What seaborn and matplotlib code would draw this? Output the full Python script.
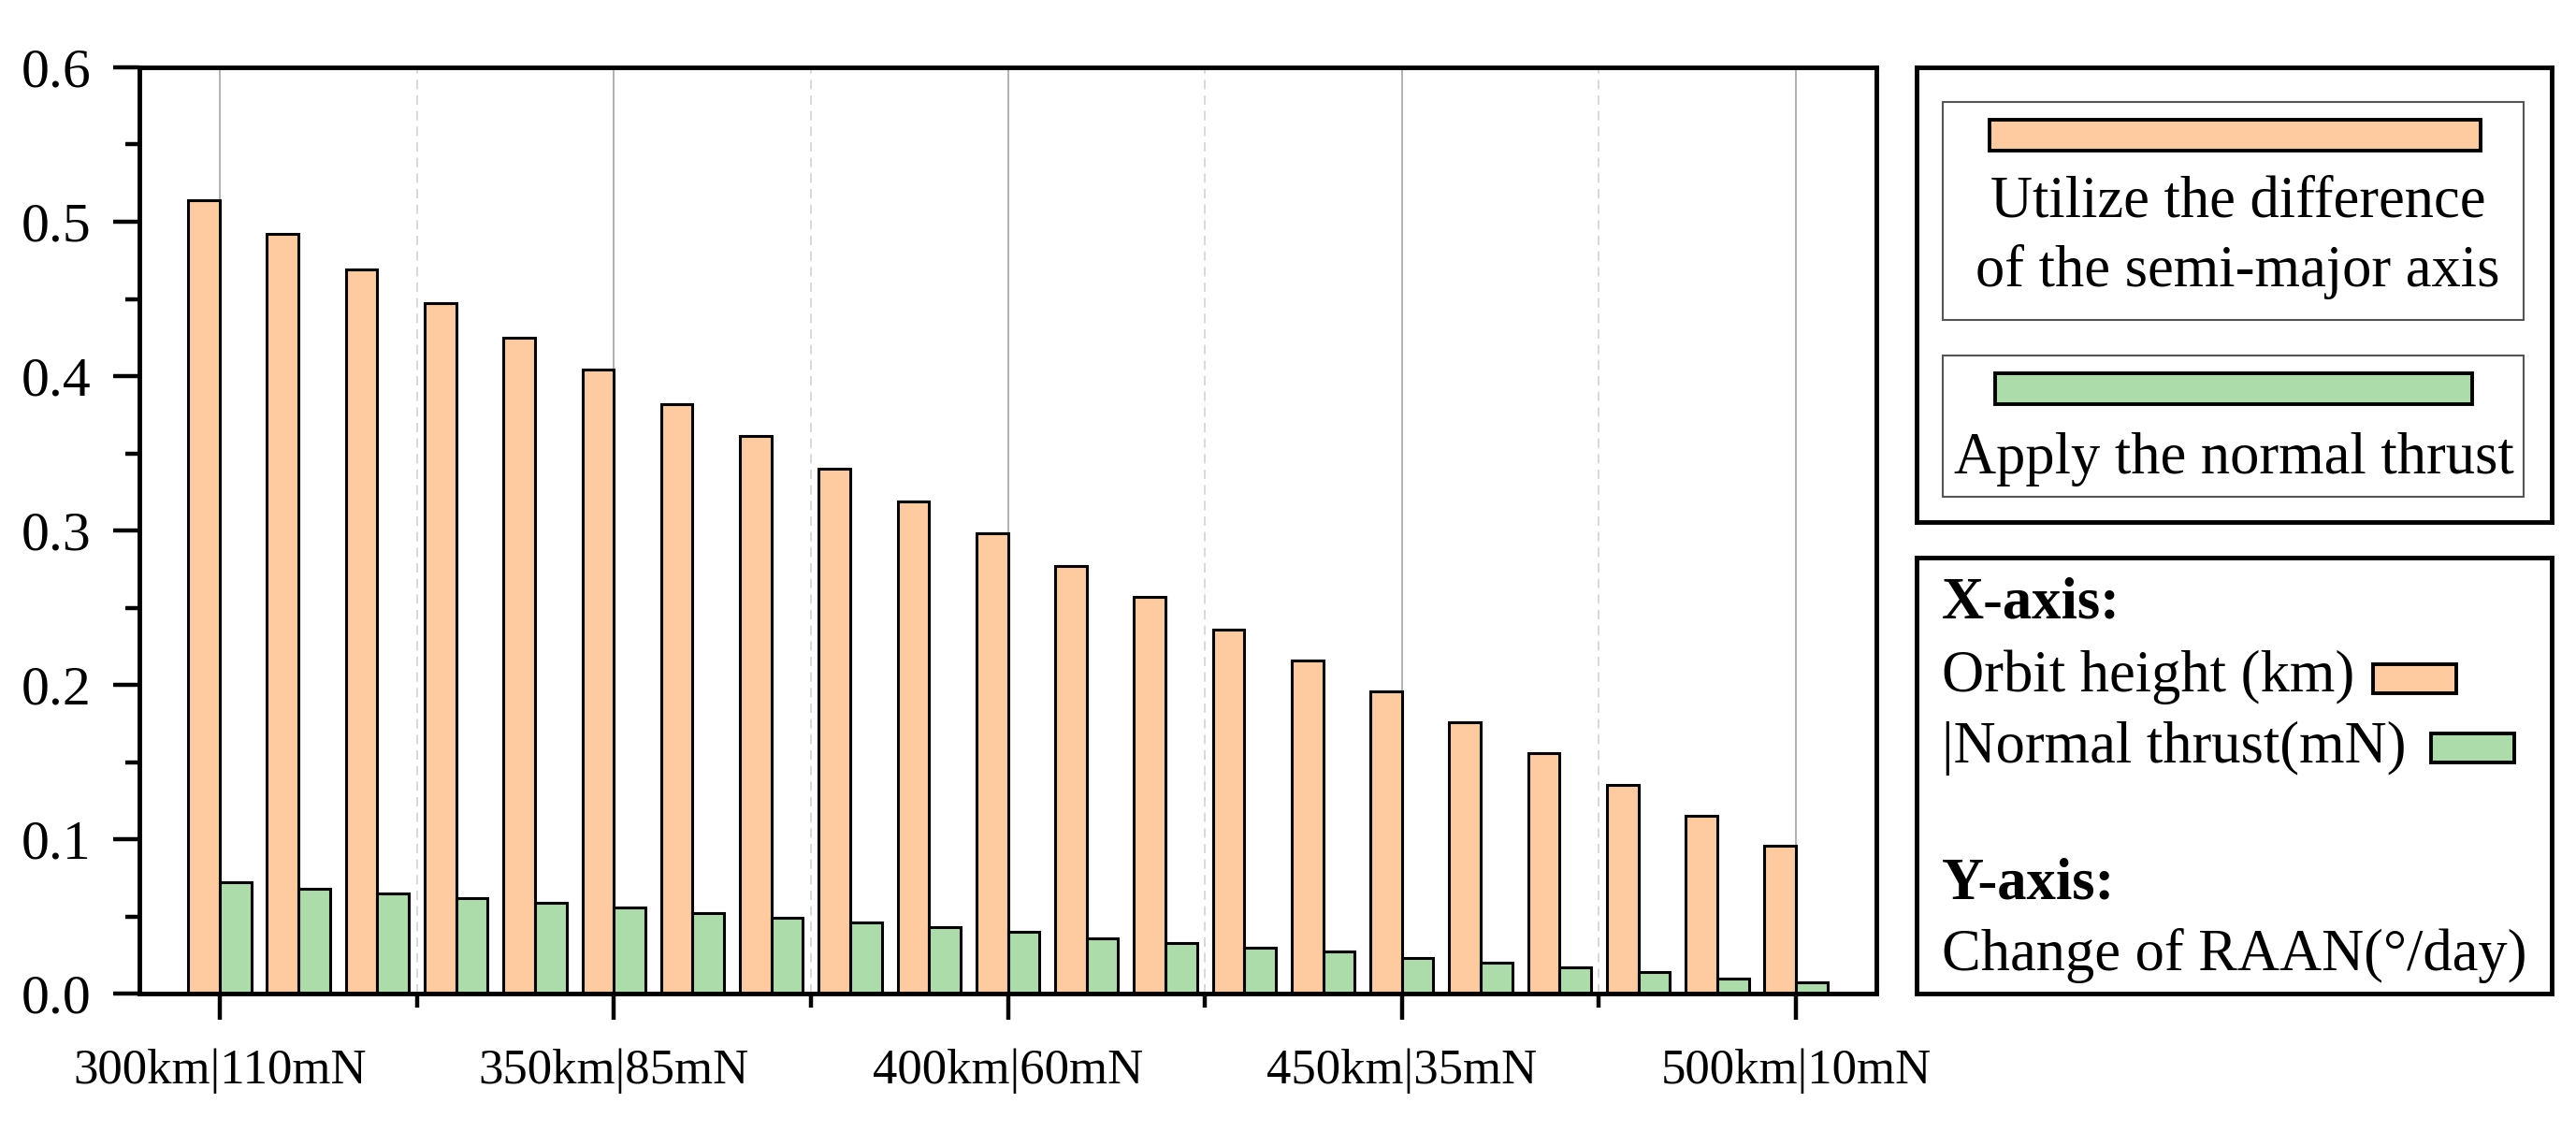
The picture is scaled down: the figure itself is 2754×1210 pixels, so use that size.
import numpy as np
import pandas as pd
import matplotlib.pyplot as plt
import matplotlib.patches as patches
from matplotlib.ticker import FixedLocator, MultipleLocator, FormatStrFormatter
import seaborn as sns

sns.set_theme(style='white')
plt.rcParams['font.family'] = ['Liberation Serif', 'DejaVu Serif']
plt.rcParams.update({'text.color': 'black', 'axes.labelcolor': 'black',
                     'xtick.color': 'black', 'ytick.color': 'black'})

# orbit heights (km), one group of bars per height
heights = [300, 310, 320, 330, 340, 350, 360, 370, 380, 390, 400,
           410, 420, 430, 440, 450, 460, 470, 480, 490, 500]
# change of RAAN (deg/day)
semi_major = [0.514, 0.492, 0.469, 0.447, 0.425, 0.404, 0.382, 0.361, 0.340, 0.319, 0.298,
              0.277, 0.257, 0.236, 0.216, 0.196, 0.176, 0.156, 0.135, 0.115, 0.096]
normal_thrust = [0.072, 0.068, 0.065, 0.062, 0.059, 0.056, 0.052, 0.049, 0.046, 0.043, 0.040,
                 0.036, 0.033, 0.030, 0.027, 0.023, 0.020, 0.017, 0.014, 0.010, 0.007]
methods = ['Utilize the difference\nof the semi-major axis', 'Apply the normal thrust']
tick_labels = ['300km|110mN', '350km|85mN', '400km|60mN', '450km|35mN', '500km|10mN']

ORANGE = '#FDCB9F'
GREEN = '#ADDCAB'

df = pd.DataFrame({
    'height': heights + heights,
    'value': semi_major + normal_thrust,
    'method': [methods[0]] * len(heights) + [methods[1]] * len(heights),
})

fig = plt.figure(figsize=(27.54, 12.10), dpi=100)
ax = fig.add_axes([0.0541, 0.1223, 0.6743, 0.8182])

sns.barplot(data=df, x='height', y='value', hue='method', order=heights, hue_order=methods,
            palette=[ORANGE, GREEN], saturation=1, width=0.8, edgecolor='black',
            linewidth=2.2, legend=False, ax=ax, zorder=2)

ax.set_xlim(-1.02, 21.02)
ax.set_ylim(0, 0.6)
ax.set_xlabel('')
ax.set_ylabel('')

ax.xaxis.set_major_locator(FixedLocator([0, 5, 10, 15, 20]))
ax.xaxis.set_minor_locator(FixedLocator([2.5, 7.5, 12.5, 17.5]))
ax.set_xticklabels(tick_labels)
ax.yaxis.set_major_locator(MultipleLocator(0.1))
ax.yaxis.set_minor_locator(MultipleLocator(0.05))
ax.yaxis.set_major_formatter(FormatStrFormatter('%.1f'))

ax.grid(which='major', axis='x', color='#a6a6a6', lw=1.2, ls='-', zorder=0)
ax.grid(which='minor', axis='x', color='#d2d2d2', lw=1.2, ls=(0, (6, 4)), zorder=0)
ax.grid(which='both', axis='y', visible=False)
ax.set_axisbelow(True)

ax.tick_params(axis='both', which='major', direction='out', length=20, width=3.2, color='black')
ax.tick_params(axis='both', which='minor', direction='out', length=11, width=3.2, color='black')
ax.tick_params(axis='x', which='both', bottom=True, labelsize=38, pad=22)
ax.tick_params(axis='y', which='both', left=True, labelsize=43, pad=17)
for s in ax.spines.values():
    s.set_visible(True)
    s.set_color('black')
    s.set_linewidth(3.5)

# legend panel with the two methods
lax1 = fig.add_axes([0.744, 0.5388, 0.2466, 0.4017])
lax1.set_xlim(0, 1)
lax1.set_ylim(0, 1)
lax1.set_xticks([])
lax1.set_yticks([])
for s in lax1.spines.values():
    s.set_color('black')
    s.set_linewidth(3.5)
for (y0, y1) in [(0.444, 0.924), (0.056, 0.366)]:
    lax1.add_patch(patches.Rectangle((0.041, y0), 0.915, y1 - y0, fill=False,
                                     edgecolor='#555555', lw=1.5))
lax1.add_patch(patches.Rectangle((0.115, 0.817), 0.773, 0.068, facecolor=ORANGE,
                                 edgecolor='black', lw=2.8))
lax1.add_patch(patches.Rectangle((0.124, 0.259), 0.751, 0.068, facecolor=GREEN,
                                 edgecolor='black', lw=2.8))
lax1.text(0.506, 0.702, 'Utilize the difference', fontsize=45, ha='center', va='center')
lax1.text(0.506, 0.550, 'of the semi-major axis', fontsize=45, ha='center', va='center')
lax1.text(0.500, 0.137, 'Apply the normal thrust', fontsize=45, ha='center', va='center')

# axis description panel
lax2 = fig.add_axes([0.744, 0.1223, 0.2466, 0.385])
lax2.set_xlim(0, 1)
lax2.set_ylim(0, 1)
lax2.set_xticks([])
lax2.set_yticks([])
for s in lax2.spines.values():
    s.set_color('black')
    s.set_linewidth(3.5)
lax2.text(0.040, 0.895, 'X-axis:', fontsize=45, fontweight='bold', ha='left', va='center')
lax2.text(0.040, 0.727, 'Orbit height (km)', fontsize=45, ha='left', va='center')
lax2.text(0.040, 0.562, '|Normal thrust(mN)', fontsize=45, ha='left', va='center')
lax2.text(0.040, 0.251, 'Y-axis:', fontsize=45, fontweight='bold', ha='left', va='center')
lax2.text(0.040, 0.086, 'Change of RAAN(°/day)', fontsize=45, ha='left', va='center')
lax2.add_patch(patches.Rectangle((0.719, 0.689), 0.131, 0.066, facecolor=ORANGE,
                                 edgecolor='black', lw=2.8))
lax2.add_patch(patches.Rectangle((0.810, 0.530), 0.131, 0.067, facecolor=GREEN,
                                 edgecolor='black', lw=2.8))

fig.savefig('out.png', dpi=100, facecolor='white')
